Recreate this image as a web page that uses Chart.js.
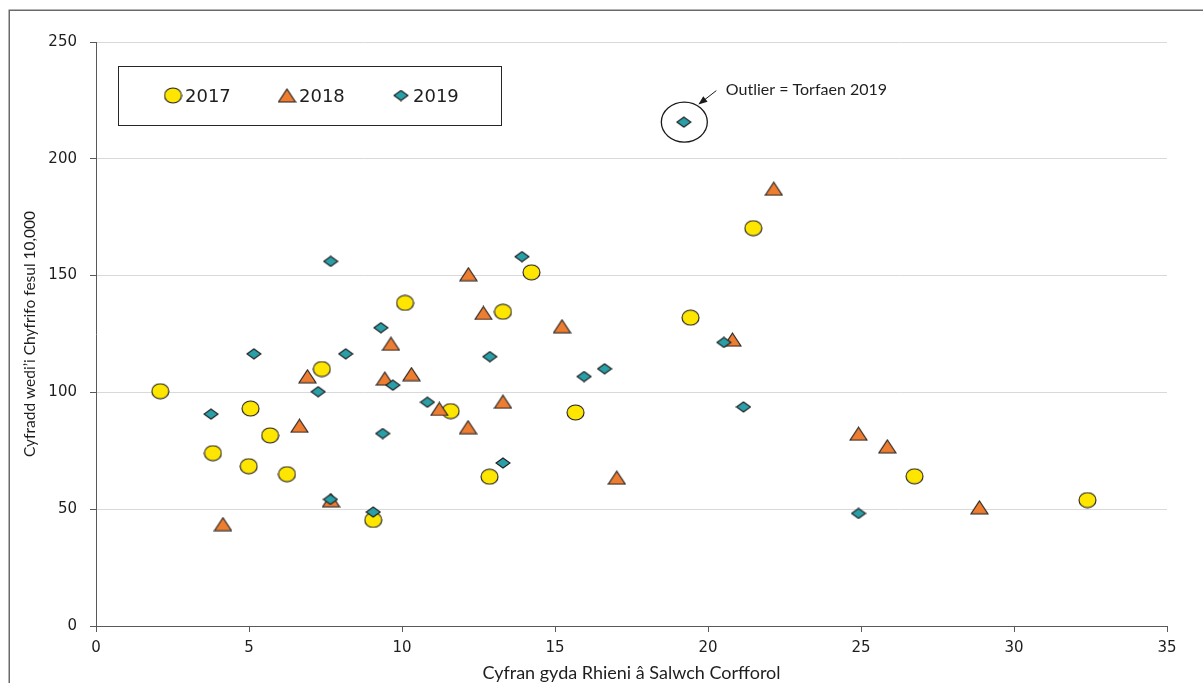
<!DOCTYPE html>
<html>
<head>
<meta charset="utf-8">
<script src="https://cdn.jsdelivr.net/npm/chart.js@4.4.1/dist/chart.umd.min.js"></script>
<style>
    html, body { margin: 0; padding: 0; background: #ffffff; }
    #wrap { width: 1203px; height: 683px; position: relative; }
</style>
</head>
<body>
<div id="wrap"><canvas id="scatter_chart"></canvas></div>
<script>
const seriesNames = ['2017', '2018', '2019'];

const x2017 = [2.1, 3.82, 5.05, 4.99, 5.69, 6.24, 7.38, 9.06, 10.1, 11.59, 12.86, 13.3, 14.23, 15.67, 19.43, 21.48, 26.75, 32.4];
const y2017 = [100.5, 74.0, 93.1, 68.4, 81.6, 65.0, 110.0, 45.4, 138.3, 92.0, 63.9, 134.5, 151.4, 91.4, 132.0, 170.3, 64.1, 53.9];

const x2018 = [4.15, 6.65, 6.91, 7.68, 9.44, 9.64, 10.31, 11.22, 12.17, 12.16, 12.66, 13.3, 15.23, 17.02, 20.8, 22.15, 24.92, 25.86, 28.87];
const y2018 = [43.6, 85.7, 106.9, 53.8, 105.9, 120.8, 107.8, 92.9, 150.6, 85.1, 134.0, 96.0, 128.3, 63.5, 122.6, 187.2, 82.3, 76.9, 50.8];

const x2019 = [3.76, 5.16, 7.26, 7.67, 7.66, 8.16, 9.06, 9.31, 9.37, 9.70, 10.83, 12.87, 13.3, 13.92, 15.95, 16.62, 20.52, 21.16, 24.92, 19.21];
const y2019 = [90.7, 116.5, 100.3, 156.1, 54.2, 116.5, 48.8, 127.7, 82.4, 103.1, 95.8, 115.3, 69.8, 158.1, 106.8, 110.1, 121.4, 93.8, 48.2, 215.7];

const xTitle = 'Cyfran gyda Rhieni â Salwch Corfforol';
const yTitle = 'Cyfradd wedi’i Chyfrifo fesul 10,000';
const outlierLabel = 'Outlier = Torfaen 2019';

const TEXT = '#1e1e1e';
const AXIS = '#595959';

function makeMarker(shape, fill) {
    let c = document.createElement('canvas');
    let w = shape == 'diamond' ? 16 : 19;
    let h = shape == 'circle' ? 17 : (shape == 'triangle' ? 15 : 12);
    c.width = w;
    c.height = h;
    let ctx = c.getContext('2d');
    ctx.beginPath();
    if (shape == 'circle') {
        ctx.ellipse(w / 2, h / 2, w / 2 - 1, h / 2 - 1, 0, 0, 2 * Math.PI);
    } else if (shape == 'triangle') {
        ctx.moveTo(w / 2, 1);
        ctx.lineTo(w - 1, h - 1);
        ctx.lineTo(1, h - 1);
        ctx.closePath();
    } else {
        ctx.moveTo(w / 2, 1);
        ctx.lineTo(w - 1, h / 2);
        ctx.lineTo(w / 2, h - 1);
        ctx.lineTo(1, h / 2);
        ctx.closePath();
    }
    ctx.fillStyle = fill;
    ctx.fill();
    ctx.lineWidth = 1.1;
    ctx.strokeStyle = '#1f1f1f';
    ctx.stroke();
    return c;
}

const markers = [
    makeMarker('circle', '#ffe600'),
    makeMarker('triangle', '#ed7d31'),
    makeMarker('diamond', '#2a9fa8')
];

function toPoints(xs, ys) {
    return xs.map((x, i) => ({ x: x, y: ys[i] }));
}

// outer frame, cut off at the right and bottom like the source
const framePlugin = {
    id: 'frame',
    beforeDraw(chart) {
        let ctx = chart.ctx;
        ctx.save();
        ctx.fillStyle = '#ffffff';
        ctx.fillRect(0, 0, chart.width, chart.height);
        ctx.strokeStyle = '#6a6a6a';
        ctx.lineWidth = 1.5;
        ctx.strokeRect(9.25, 10.25, 1400, 1000);
        ctx.restore();
    }
};

const legendPlugin = {
    id: 'boxLegend',
    afterDraw(chart) {
        let ctx = chart.ctx;
        ctx.save();
        ctx.strokeStyle = '#262626';
        ctx.lineWidth = 1;
        ctx.strokeRect(118.5, 66.5, 383, 59);
        ctx.font = '18px "DejaVu Sans"';
        ctx.fillStyle = TEXT;
        ctx.textBaseline = 'alphabetic';
        let xs = [173, 287, 401];
        for (let i = 0; i < seriesNames.length; i++) {
            let m = markers[i];
            ctx.drawImage(m, xs[i] - m.width / 2, 95.5 - m.height / 2);
            ctx.fillText(seriesNames[i], xs[i] + 12, 101.5);
        }
        ctx.restore();
    }
};

const outlierPlugin = {
    id: 'outlier',
    afterDatasetsDraw(chart) {
        let i = y2019.indexOf(Math.max(...y2019));
        let px = chart.scales.x.getPixelForValue(x2019[i]);
        let py = chart.scales.y.getPixelForValue(y2019[i]);
        let ctx = chart.ctx;
        ctx.save();
        ctx.strokeStyle = '#1a1a1a';
        ctx.lineWidth = 1.3;
        ctx.beginPath();
        ctx.ellipse(px + 0.5, py, 23, 20, 0, 0, 2 * Math.PI);
        ctx.stroke();

        let tx = px + 32.5, ty = py - 31.5;
        let hx = px + 14.5, hy = py - 17.5;
        let ang = Math.atan2(hy - ty, hx - tx);
        ctx.lineWidth = 1;
        ctx.beginPath();
        ctx.moveTo(tx, ty);
        ctx.lineTo(hx - Math.cos(ang) * 6, hy - Math.sin(ang) * 6);
        ctx.stroke();
        ctx.fillStyle = '#1a1a1a';
        ctx.beginPath();
        ctx.moveTo(hx, hy);
        ctx.lineTo(hx - Math.cos(ang) * 9 + Math.sin(ang) * 3.5, hy - Math.sin(ang) * 9 - Math.cos(ang) * 3.5);
        ctx.lineTo(hx - Math.cos(ang) * 9 - Math.sin(ang) * 3.5, hy - Math.sin(ang) * 9 + Math.cos(ang) * 3.5);
        ctx.closePath();
        ctx.fill();

        ctx.font = '16px Lato';
        ctx.fillStyle = TEXT;
        ctx.textBaseline = 'alphabetic';
        ctx.fillText(outlierLabel, px + 42, py - 27.3);
        ctx.restore();
    }
};

let ctx = document.getElementById('scatter_chart').getContext('2d');
let config = {
    type: 'scatter',
    data: {
        datasets: [
            { label: seriesNames[0], data: toPoints(x2017, y2017), pointStyle: markers[0], order: 3 },
            { label: seriesNames[1], data: toPoints(x2018, y2018), pointStyle: markers[1], order: 2 },
            { label: seriesNames[2], data: toPoints(x2019, y2019), pointStyle: markers[2], order: 1 }
        ]
    },
    options: {
        responsive: true,
        maintainAspectRatio: false,
        animation: false,
        events: [],
        layout: { padding: { left: 0, top: 42, right: 36, bottom: 0 } },
        scales: {
            x: {
                type: 'linear',
                min: 0,
                max: 35,
                ticks: { stepSize: 5, color: TEXT, padding: 7, font: { family: 'DejaVu Sans', size: 15 } },
                grid: { drawOnChartArea: false, drawTicks: true, tickLength: 6, tickColor: AXIS },
                border: { color: AXIS, width: 1 },
                title: {
                    display: true,
                    text: xTitle,
                    color: TEXT,
                    font: { family: 'Lato', size: 18, lineHeight: 1 },
                    padding: { top: 0, bottom: 1 }
                },
                afterFit: (s) => { s.height = 57; }
            },
            y: {
                type: 'linear',
                min: 0,
                max: 250,
                ticks: { stepSize: 50, color: TEXT, padding: 13, font: { family: 'DejaVu Sans', size: 15 } },
                grid: {
                    color: (c) => (c.tick && c.tick.value === 0) ? 'rgba(0,0,0,0)' : '#d9d9d9',
                    tickLength: 6,
                    tickColor: AXIS
                },
                border: { color: AXIS, width: 1 },
                title: {
                    display: true,
                    text: yTitle,
                    color: TEXT,
                    font: { family: 'Lato', size: 15.5 },
                    padding: { top: 21, bottom: 0 }
                },
                afterFit: (s) => { s.width = 96; }
            }
        },
        plugins: {
            legend: { display: false },
            tooltip: { enabled: false }
        }
    },
    plugins: [framePlugin, legendPlugin, outlierPlugin]
};

let chart = new Chart(ctx, config);
</script>
</body>
</html>
